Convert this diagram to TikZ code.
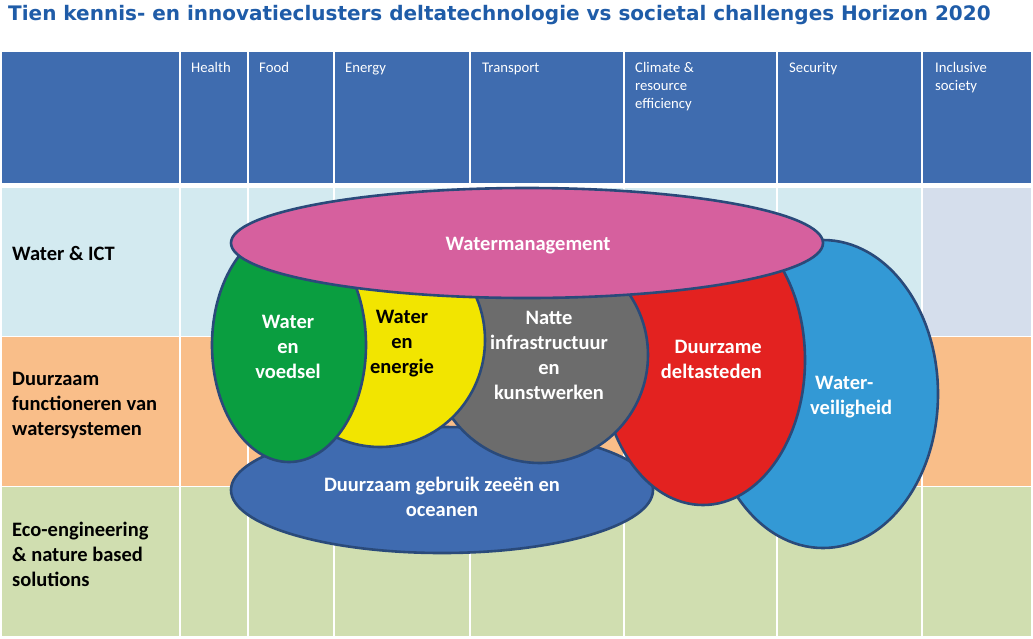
\documentclass[tikz,border=0pt]{standalone}
\usepackage{fontspec}
\setmainfont{Carlito}
\newfontfamily\titlefont{DejaVu Sans}
\definecolor{titleblue}{RGB}{31,92,168}
\definecolor{hdrblue}{RGB}{63,108,175}
\definecolor{rowA}{RGB}{211,234,240}
\definecolor{rowAlast}{RGB}{213,222,236}
\definecolor{rowB}{RGB}{249,190,137}
\definecolor{rowC}{RGB}{208,222,176}
\definecolor{edgeblue}{RGB}{42,74,122}
\definecolor{cpink}{RGB}{214,96,158}
\definecolor{cgreen}{RGB}{10,158,64}
\definecolor{cyellow}{RGB}{242,229,0}
\definecolor{cgray}{RGB}{108,108,108}
\definecolor{cred}{RGB}{227,34,32}
\definecolor{clblue}{RGB}{51,153,213}
\definecolor{cdblue}{RGB}{63,107,176}
\begin{document}
\begin{tikzpicture}[x=1pt,y=-1pt,
  blob/.style={draw=edgeblue, line width=2.6pt},
  lbl/.style={inner sep=0pt, align=center, anchor=base, font=\bfseries\fontsize{20.5}{24.8}\selectfont, text=white},
  hdr/.style={inner sep=0pt, align=left, anchor=base west, font=\fontsize{14.7}{18.2}\selectfont, text=white},
  rowlbl/.style={inner sep=0pt, align=left, anchor=base west, font=\bfseries\fontsize{20.5}{24.8}\selectfont, text=black}]
\useasboundingbox (0,0) rectangle (1033,638);
\fill[white] (0,0) rectangle (1033,638);
% title
\node[inner sep=0pt, anchor=base west, text=titleblue, font=\titlefont\bfseries\fontsize{20}{24}\selectfont] (title) at (8,20) {Tien kennis- en innovatieclusters deltatechnologie vs societal challenges Horizon 2020};
% table
\fill[hdrblue] (2,52) rectangle (1031,183);
\fill[rowA] (2,188) rectangle (1031,335.5);
\fill[rowAlast] (922,188) rectangle (1031,335.5);
\fill[rowB] (2,337) rectangle (1031,485.5);
\fill[rowC] (2,487) rectangle (1031,636);
\foreach \x in {180,248,334,470,624,777,922}
  \draw[white, line width=2pt] (\x,50) -- (\x,638);
% header labels (base = last line)
\node[hdr] (hHealth) at (191,72) {Health};
\node[hdr] (hFood) at (259,72) {Food};
\node[hdr] (hEnergy) at (345,72) {Energy};
\node[hdr] (hTransport) at (482,72) {Transport};
\node[hdr] (hClimate) at (635,108.4) {Climate \&\\resource\\efficiency};
\node[hdr] (hSecurity) at (789,72) {Security};
\node[hdr] (hInclusive) at (935,90.2) {Inclusive\\society};
% row labels
\node[rowlbl] (rICT) at (12,260) {Water \& ICT};
\node[rowlbl] (rDuur) at (12,435) {Duurzaam\\functioneren van\\watersystemen};
\node[rowlbl] (rEco) at (12,586) {Eco-engineering\\\& nature based\\solutions};
% clusters
\filldraw[blob, fill=cdblue] (442,490) ellipse [x radius=211, y radius=63];
\filldraw[blob, fill=clblue] (823,394) ellipse [x radius=115, y radius=154];
\filldraw[blob, fill=cred] (703,360) ellipse [x radius=102, y radius=145];
\filldraw[blob, fill=cgray] (540,355) ellipse [x radius=108, y radius=108];
\filldraw[blob, fill=cyellow] (380,340) ellipse [x radius=105, y radius=107];
\filldraw[blob, fill=cgreen] (289,345) ellipse [x radius=77, y radius=117];
\filldraw[blob, fill=cpink] (527,243) ellipse [x radius=296, y radius=55];
% cluster labels (base = last line)
\node[lbl] (lWM) at (528,250) {Watermanagement};
\node[lbl] (lVoedsel) at (288,378) {Water\\en\\voedsel};
\node[lbl, text=black] (lEnergie) at (402,373) {Water\\en\\energie};
\node[lbl] (lNatte) at (549,399) {Natte\\infrastructuur\\en\\kunstwerken};
\node[lbl, align=right, anchor=base east] (lDelta) at (762,378) {Duurzame\\deltasteden};
\node[lbl, align=left, anchor=base west] (lVeilig) at (810,414) {\hspace{5pt}Water-\\veiligheid};
\node[lbl] (lZee) at (442,516) {Duurzaam gebruik zeeën en\\oceanen};
\end{tikzpicture}
\end{document}
